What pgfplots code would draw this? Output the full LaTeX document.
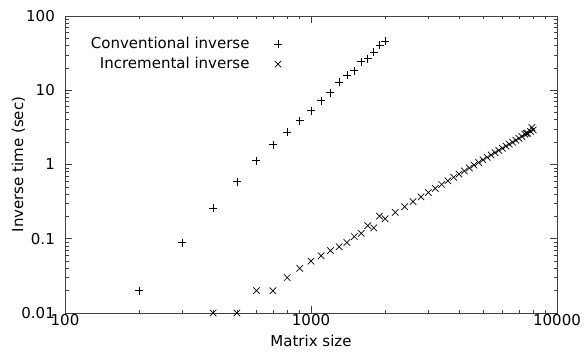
\documentclass[border=0pt]{standalone}
\usepackage{fontspec}
\setmainfont{DejaVu Sans}
\usepackage{pgfplots}
\pgfplotsset{compat=1.18}
\usetikzlibrary{calc}
\begin{document}
\fontsize{15bp}{18bp}\selectfont
\begin{tikzpicture}
\begin{axis}[
  xmode=log, ymode=log,
  scale only axis,
  width=492bp, height=297bp,
  xmin=100, xmax=10000, ymin=0.01, ymax=100,
  clip=false,
  /pgf/number format/assume math mode=true,
  xtick={100,1000,10000},
  xticklabels={100,1000,10000},
  minor xtick={200,300,400,500,600,700,800,900,2000,3000,4000,5000,6000,7000,8000,9000},
  ytick={0.01,0.1,1,10,100},
  yticklabels={0.01,0.1,1,10,100},
  minor ytick={0.02,0.03,0.04,0.05,0.06,0.07,0.08,0.09,0.2,0.3,0.4,0.5,0.6,0.7,0.8,0.9,2,3,4,5,6,7,8,9,20,30,40,50,60,70,80,90},
  tick align=inside,
  major tick length=7bp,
  minor tick length=3.5bp,
  axis line style={black!75, line width=0.8bp},
  every tick/.style={black!75, line width=0.6bp},
  xticklabel style={anchor=base, inner sep=0pt, yshift=-12bp},
  yticklabel style={anchor=east, inner sep=0pt, xshift=-10bp},
  tick label style={font=\fontsize{15bp}{18bp}\selectfont},
  xlabel={Matrix size},
  ylabel={Inverse time (sec)},
  every axis x label/.style={at={(rel axis cs:0.5,0)}, anchor=base, inner sep=0pt, yshift=-33bp},
  every axis y label/.style={at={(rel axis cs:0,0.5)}, rotate=90, anchor=base, inner sep=0pt, yshift=42bp},
  label style={font=\fontsize{15bp}{18bp}\selectfont},
  legend cell align=right,
  legend plot pos=right,
  legend style={draw=none, fill=none, inner sep=0pt, row sep=4bp, column sep=23.5bp,
    at={(rel axis cs:0,1)}, anchor=north west, xshift=24.7bp, yshift=-20bp,
    nodes={inner sep=1bp, text height=11bp, text depth=3bp},
    font=\fontsize{15bp}{18bp}\selectfont},
]
\addplot[only marks, mark=+, mark size=4bp, black, line width=0.7bp] coordinates {
(200,0.020) (300,0.089) (400,0.26) (500,0.59) (600,1.12) (700,1.85)
(800,2.75) (900,3.9) (1000,5.3) (1100,7.2) (1200,9.3) (1300,12.8)
(1400,16.0) (1500,18.3) (1600,24.3) (1700,26.6) (1800,32.4) (1900,40.7) (2000,45.6)
};
\addlegendentry{Conventional inverse}
\addplot[only marks, mark=x, mark size=4.6bp, black, line width=0.7bp] coordinates {
(400,0.010) (500,0.010) (600,0.020) (700,0.020) (800,0.030) (900,0.040)
(1000,0.050) (1100,0.059) (1200,0.069) (1300,0.078) (1400,0.089) (1500,0.107)
(1600,0.118) (1700,0.150) (1800,0.140) (1900,0.202) (2000,0.186) (2200,0.227)
(2400,0.270) (2600,0.316) (2800,0.366) (3000,0.42) (3200,0.477) (3400,0.538)
(3600,0.603) (3800,0.671) (4000,0.742) (4200,0.818) (4400,0.897) (4600,0.979)
(4800,1.065) (5000,1.155) (5200,1.248) (5400,1.345) (5600,1.445) (5800,1.549)
(6000,1.657) (6200,1.768) (6400,1.883) (6600,2.00) (6800,2.12) (7000,2.25)
(7200,2.38) (7400,2.55) (7500,2.62) (7600,2.64) (7800,2.79) (7900,3.15) (8000,2.93)
};
\addlegendentry{Incremental inverse}
\coordinate (sw) at (rel axis cs:0,0);
\coordinate (ne) at (rel axis cs:1,1);
\end{axis}
\pgfresetboundingbox
\path[use as bounding box] ($(sw)+(-65bp,-39bp)$) rectangle ($(ne)+(28bp,16bp)$);
\end{tikzpicture}
\end{document}
